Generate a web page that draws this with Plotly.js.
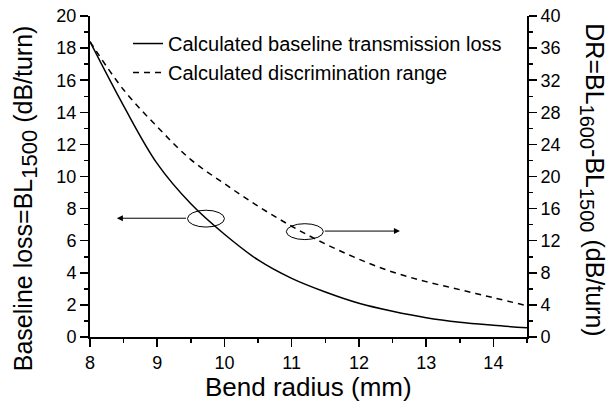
<!DOCTYPE html>
<html>
<head>
<meta charset="utf-8">
<script src="https://cdn.plot.ly/plotly-3.0.1.min.js"></script>
<style>html,body{margin:0;padding:0;background:#fff;}#chart{width:616px;height:407px;}</style>
</head>
<body>
<div id="chart"></div>
<script>
// Bend radius (mm)
const bendRadius = [8.0, 8.5, 9.0, 9.5, 10.0, 10.5, 11.0, 11.5, 12.0, 12.5, 13.0, 13.5, 14.0, 14.5];
// Calculated baseline transmission loss BL1500 (dB/turn), left axis
const baselineLoss = [18.4, 14.4, 10.8, 8.3, 6.4, 4.8, 3.65, 2.8, 2.1, 1.6, 1.2, 0.92, 0.73, 0.57];
// Calculated discrimination range DR (dB/turn), right axis
const discriminationRange = [36.8, 30.8, 26.2, 22.1, 19.1, 16.3, 13.8, 11.6, 9.7, 8.1, 6.9, 5.9, 4.9, 3.9];

const legendNames = ['Calculated baseline transmission loss', 'Calculated discrimination range'];
const FONT = 'Arial, "Liberation Sans", Helvetica, sans-serif';

const traces = [
  {x: bendRadius, y: baselineLoss, name: legendNames[0], type: 'scatter', mode: 'lines',
   line: {color: '#000', width: 1.5, shape: 'spline'}, xaxis: 'x', yaxis: 'y'},
  {x: bendRadius, y: discriminationRange, name: legendNames[1], type: 'scatter', mode: 'lines',
   line: {color: '#000', width: 1.5, dash: '6px,5px', shape: 'spline'}, xaxis: 'x', yaxis: 'y2'}
];

const axisCommon = {
  showgrid: false, zeroline: false, showline: true, linecolor: '#000', linewidth: 2,
  tickcolor: '#000', tickwidth: 1.5, ticklen: 8,
  tickfont: {family: FONT, size: 18, color: '#000'}
};

const layout = {
  width: 616, height: 407,
  margin: {l: 90, r: 89, t: 16, b: 70},
  paper_bgcolor: '#fff', plot_bgcolor: '#fff',
  font: {family: FONT, color: '#000'},
  showlegend: true,
  legend: {x: 0.087, y: 0.975, xanchor: 'left', yanchor: 'top', bgcolor: 'rgba(0,0,0,0)',
           font: {family: FONT, size: 20, color: '#000'}, tracegroupgap: 0},
  xaxis: Object.assign({}, axisCommon, {
    range: [8, 14.5], dtick: 1, tick0: 8, ticks: 'outside',
    minor: {dtick: 0.5, ticks: 'outside', ticklen: 4, tickcolor: '#000', tickwidth: 1.5}
  }),
  xaxis2: Object.assign({}, axisCommon, {
    range: [8, 14.5], overlaying: 'x', side: 'top', dtick: 0.5, tick0: 8,
    ticks: 'inside', ticklen: 5, showticklabels: false
  }),
  yaxis: Object.assign({}, axisCommon, {
    range: [0, 20], dtick: 2, tick0: 0, ticks: 'outside',
    minor: {dtick: 1, ticks: 'outside', ticklen: 4, tickcolor: '#000', tickwidth: 1.5}
  }),
  yaxis2: Object.assign({}, axisCommon, {
    range: [0, 40], dtick: 4, tick0: 0, overlaying: 'y', side: 'right', ticks: 'outside',
    minor: {dtick: 2, ticks: 'outside', ticklen: 4, tickcolor: '#000', tickwidth: 1.5}
  }),
  shapes: [
    {type: 'circle', xref: 'x', yref: 'y', x0: 9.45, x1: 10.0, y0: 6.85, y1: 7.9,
     line: {color: '#000', width: 1}},
    {type: 'circle', xref: 'x', yref: 'y', x0: 10.92, x1: 11.47, y0: 6.07, y1: 7.06,
     line: {color: '#000', width: 1}}
  ],
  annotations: [
    {x: 8.40, y: 7.40, ax: 9.45, ay: 7.40, xref: 'x', yref: 'y', axref: 'x', ayref: 'y',
     text: '', showarrow: true, arrowhead: 2, arrowsize: 1.2, arrowwidth: 1, arrowcolor: '#000', standoff: 0, startstandoff: 0},
    {x: 12.61, y: 6.60, ax: 11.47, ay: 6.60, xref: 'x', yref: 'y', axref: 'x', ayref: 'y',
     text: '', showarrow: true, arrowhead: 2, arrowsize: 1.2, arrowwidth: 1, arrowcolor: '#000', standoff: 0, startstandoff: 0},
    {text: 'Baseline loss=BL<sub><span style="font-size:22px">1500</span></sub> (dB/turn)', xref: 'paper', yref: 'paper',
     x: -0.149, y: 0.432, xanchor: 'center', yanchor: 'middle', textangle: -90, showarrow: false,
     font: {family: FONT, size: 25, color: '#000'}},
    {text: 'DR=BL<sub><span style="font-size:20px">1600</span></sub>-BL<sub><span style="font-size:20px">1500</span></sub> (dB/turn)', xref: 'paper', yref: 'paper',
     x: 1.149, y: 0.491, xanchor: 'center', yanchor: 'middle', textangle: 90, showarrow: false,
     font: {family: FONT, size: 25, color: '#000'}},
    {text: 'Bend radius (mm)', xref: 'paper', yref: 'paper',
     x: 0.499, y: -0.156, xanchor: 'center', yanchor: 'middle', showarrow: false,
     font: {family: FONT, size: 26, color: '#000'}}
  ]
};

Plotly.newPlot('chart', traces, layout, {displayModeBar: false, staticPlot: true});
</script>
</body>
</html>
